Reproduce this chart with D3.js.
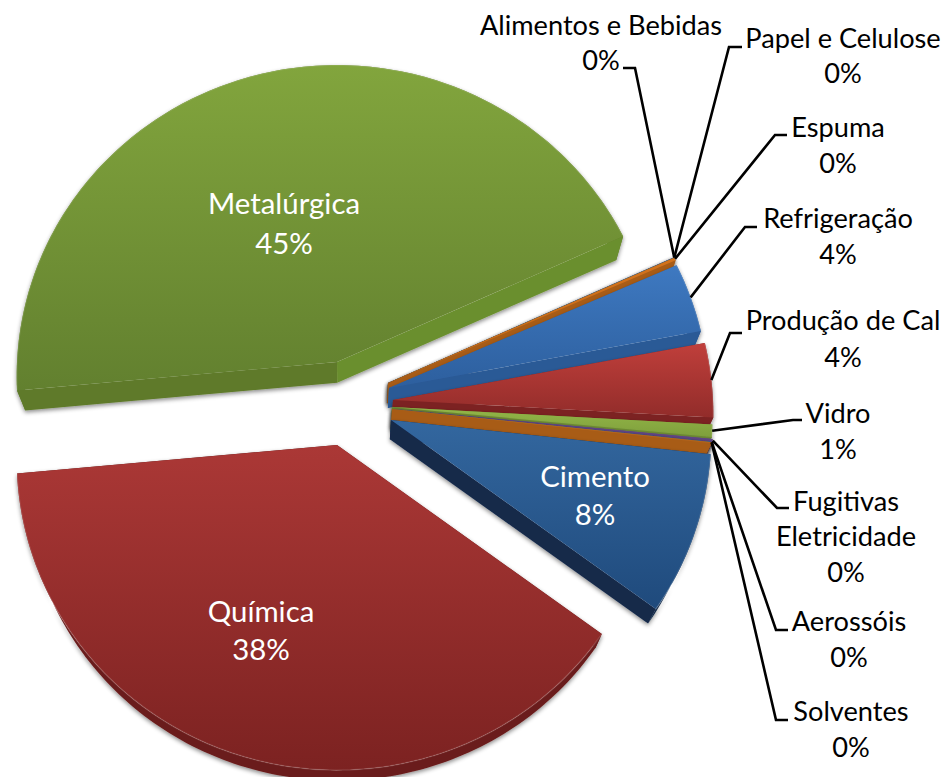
<!DOCTYPE html>
<html>
<head>
<meta charset="utf-8">
<script src="https://cdn.jsdelivr.net/npm/d3@7"></script>
<style>
  body { margin: 0; background: #fff; }
  text { font-family: Lato, "Open Sans", sans-serif; font-size: 27.2px; text-anchor: middle; }
  text.dentro { font-size: 29.4px; }
</style>
</head>
<body>
<div id="chart"></div>
<script>
var setores = ["Cimento", "Química", "Metalúrgica", "Alimentos e Bebidas", "Papel e Celulose", "Espuma",
  "Refrigeração", "Produção de Cal", "Vidro", "Fugitivas Eletricidade", "Aerossóis", "Solventes"];
var valores = [8.35, 38.45, 44.7, 0.01, 0.01, 0.15, 3.64, 3.85, 0.65, 0.15, 0.01, 0.05];

// cores: claro, escuro (topo), parede inicial, parede final
var cores = [
  ["#33679f", "#1f4a7c", "#142b4a", "#14294a"],
  ["#ab3836", "#7c2221", "#6a1c1b", "#5e1817"],
  ["#82a53d", "#62802f", "#5f7a2a", "#6b8f2e"],
  ["#6b4f90", "#5c4480", "#4a3568", "#4a3568"],
  ["#3aa0b8", "#2f8ba0", "#27707f", "#27707f"],
  ["#d2721c", "#c66a18", "#a85c18", "#a85c18"],
  ["#3e79c1", "#2d5f9e", "#2a5a96", "#2a5a96"],
  ["#c03f3b", "#922c2a", "#7c2423", "#7c2423"],
  ["#93b748", "#7f9f3c", "#6f8c35", "#6f8c35"],
  ["#664a8c", "#5f4585", "#5a4080", "#5a4080"],
  ["#3aa0b8", "#2f8ba0", "#27707f", "#27707f"],
  ["#c46a1c", "#b3621a", "#a85c18", "#a85c18"]
];

// vértice de cada fatia (explosão) na tela
var vertices = [[391, 420], [337, 445], [337, 362], [388, 383], [388, 383], [388, 383],
  [389, 388], [393, 400], [392, 407], [393, 409], [392, 409], [392, 409]];

// ordem de pintura, de trás para a frente
var ordem = [2, 1, 3, 4, 5, 6, 7, 8, 9, 10, 11, 0];

// rótulos: centro x, y de cada linha, linha de chamada (cotovelo + fim)
var rotulos = [
  { i: 0, x: 595, y: [477, 515], cor: "#fff", classe: "dentro" },
  { i: 1, x: 261, y: [612, 650], cor: "#fff", classe: "dentro" },
  { i: 2, x: 284, y: [204, 244], cor: "#fff", classe: "dentro" },
  { i: 3, x: 601, y: [25, 60], cor: "#000", chamada: [[635, 68], [623, 68]] },
  { i: 4, x: 843, y: [38, 73], cor: "#000", chamada: [[729, 47], [742, 47]] },
  { i: 5, x: 838, y: [127, 163], cor: "#000", chamada: [[775, 135], [787, 135]] },
  { i: 6, x: 838, y: [218, 254], cor: "#000", chamada: [[745, 227], [757, 227]] },
  { i: 7, x: 843, y: [320, 357], cor: "#000", chamada: [[730, 333], [742, 333]] },
  { i: 8, x: 838, y: [413, 449], cor: "#000", chamada: [[793, 420], [802, 420]] },
  { i: 9, x: 846, y: [501, 536, 572], cor: "#000", linhas: ["Fugitivas", "Eletricidade"], chamada: [[777, 508], [789, 508]] },
  { i: 10, x: 849, y: [621, 657], cor: "#000", chamada: [[776, 630], [788, 630]] },
  { i: 11, x: 851, y: [711, 747], cor: "#000", chamada: [[776, 720], [788, 720]] }
];

var width = 943, height = 777;
var raio = 320, inclinacao = 0.97, perspectiva = 0.0453;
var fuga = [345, 1190], escalaBase = 0.975; // base da fatia converge para o ponto de fuga

var svg = d3.select("#chart").append("svg")
  .attr("width", width)
  .attr("height", height);

var defs = svg.append("defs");
var sombra = defs.append("filter").attr("id", "sombra")
  .attr("x", "-10%").attr("y", "-10%").attr("width", "120%").attr("height", "120%");
sombra.append("feDropShadow")
  .attr("dx", 0).attr("dy", 2).attr("stdDeviation", 2)
  .attr("flood-color", "#000").attr("flood-opacity", 0.45);

var pie = d3.pie()
  .sort(null)
  .value(function(d) { return d; })
  .startAngle(96.3 * Math.PI / 180)
  .endAngle((96.3 + 360) * Math.PI / 180);

var fatias = pie(valores);
var total = d3.sum(valores);
var pct = d3.format(".0%");

var line = d3.line();

// ponto do disco no plano do topo -> tela
function topo(i, ang) {
  var X = raio * Math.sin(ang), Y = raio * Math.cos(ang);
  var w = 1 + perspectiva * Y / raio;
  return [vertices[i][0] + X / w, vertices[i][1] - Y * inclinacao / w];
}

function base(p) {
  return [fuga[0] + (p[0] - fuga[0]) * escalaBase, fuga[1] + (p[1] - fuga[1]) * escalaBase];
}

function arco(i) {
  var a0 = fatias[i].startAngle, a1 = fatias[i].endAngle;
  var n = Math.max(2, Math.ceil((a1 - a0) / 0.02));
  return d3.range(n + 1).map(function(k) { return topo(i, a0 + (a1 - a0) * k / n); });
}

ordem.forEach(function(i) {
  var pts = arco(i);
  var v = vertices[i];
  var g = svg.append("g").attr("filter", "url(#sombra)");
  var c = cores[i];
  var primeiro = pts[0], ultimo = pts[pts.length - 1];

  // parede externa
  g.append("path").attr("fill", c[2])
    .attr("d", line(pts.concat(pts.map(base).reverse())) + "Z");
  // paredes radiais
  g.append("path").attr("fill", c[2])
    .attr("d", line([v, primeiro, base(primeiro), base(v)]) + "Z");
  g.append("path").attr("fill", c[3])
    .attr("d", line([v, ultimo, base(ultimo), base(v)]) + "Z");

  // topo
  var ys = d3.extent(pts.concat([v]), function(p) { return p[1]; });
  var id = "grad" + i;
  var grad = defs.append("linearGradient").attr("id", id)
    .attr("gradientUnits", "userSpaceOnUse")
    .attr("x1", 0).attr("x2", 0).attr("y1", ys[0]).attr("y2", ys[1]);
  grad.append("stop").attr("offset", 0).attr("stop-color", c[0]);
  grad.append("stop").attr("offset", 1).attr("stop-color", c[1]);

  svg.append("path")
    .attr("fill", "url(#" + id + ")")
    .attr("d", line([v].concat(pts)) + "Z");

  // brilho fino na borda do arco
  svg.append("path")
    .attr("fill", "none")
    .attr("stroke", "#fff")
    .attr("stroke-opacity", 0.12)
    .attr("stroke-width", 1.5)
    .attr("d", line(pts));
});

// linhas de chamada
rotulos.filter(function(r) { return r.chamada; }).forEach(function(r) {
  var f = fatias[r.i];
  var meio = (f.startAngle + f.endAngle) / 2;
  svg.append("path")
    .attr("fill", "none")
    .attr("stroke", "#000")
    .attr("stroke-width", 2.6)
    .attr("d", line([topo(r.i, meio)].concat(r.chamada)));
});

// textos
rotulos.forEach(function(r) {
  var linhas = (r.linhas || [setores[r.i]]).concat([pct(valores[r.i] / total)]);
  linhas.forEach(function(t, k) {
    svg.append("text")
      .attr("class", r.classe || null)
      .attr("x", r.x)
      .attr("y", r.y[k])
      .attr("dy", "0.35em")
      .attr("fill", r.cor)
      .text(t);
  });
});
</script>
</body>
</html>
